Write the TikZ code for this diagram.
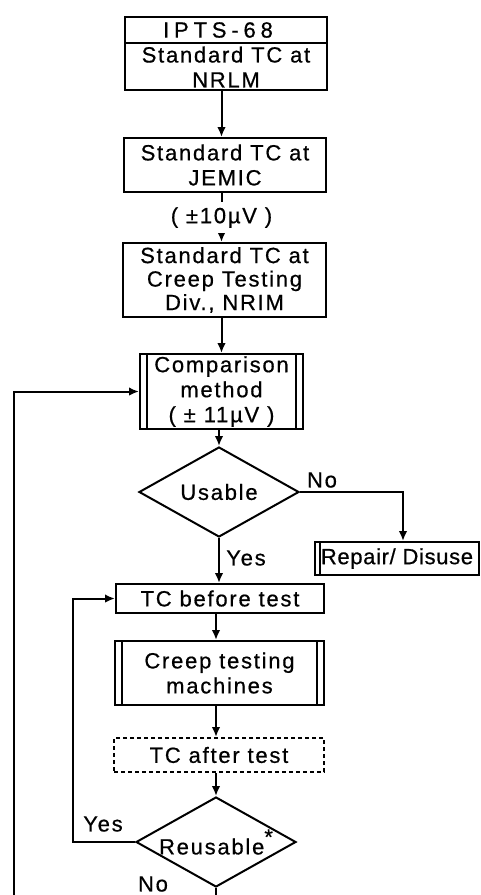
\documentclass[tikz,border=0pt]{standalone}
\usepackage{fontspec}
\setmainfont[LetterSpace=8,FakeBold=0.6]{Liberation Sans}
\usetikzlibrary{shapes.geometric,arrows.meta}

\begin{document}
\begin{tikzpicture}[x=1pt,y=-1pt,line width=2pt,
  every node/.style={font=\fontsize{22}{25}\selectfont,align=center,inner sep=0pt},
  box/.style={draw,rectangle},
  proc/.style={box,path picture={
      \draw[line width=1.6pt] ([xshift=7pt]path picture bounding box.north west) -- ([xshift=7pt]path picture bounding box.south west);
      \draw[line width=1.6pt] ([xshift=-7pt]path picture bounding box.north east) -- ([xshift=-7pt]path picture bounding box.south east);}},
  procleft/.style={box,path picture={
      \draw[line width=1.6pt] ([xshift=5pt]path picture bounding box.north west) -- ([xshift=5pt]path picture bounding box.south west);}},
  dia/.style={draw,diamond,aspect=1.78,minimum width=160pt,minimum height=90pt},
  dashbox/.style={box,dash pattern=on 4pt off 3pt},
  arr/.style={-{Latex[length=10pt,width=8.5pt]}}]

\clip (0,0) rectangle (480,895);

% reference standard at NRLM
\node[box,minimum width=202pt,minimum height=73pt] (nrlm) at (226,53.5) {};
\coordinate (divider) at (0,43);
\draw (nrlm.west |- divider) -- (nrlm.east |- divider);
\node[font=\fontsize{22}{25}\selectfont\addfontfeature{LetterSpace=22}] (nrlmhead) at (218,30) {IPTS-68};
\node (nrlmtext) at (226,67) {Standard TC at\\NRLM};

\node[box,minimum width=202pt,minimum height=54pt] (jemic) at (225,165) {Standard TC at\\JEMIC};
\node[box,minimum width=203pt,minimum height=74pt,font=\fontsize{22}{23.5}\selectfont] (nrim) at (224.5,280)
  {Standard TC at\\Creep Testing\\Div., NRIM};
\node[proc,minimum width=163pt,minimum height=75pt] (comp) at (221.5,391.5)
  {Comparison\\method\\( ± 11µV )};
\node[dia] (usable) at (219,492) {Usable};
\node[procleft,minimum width=164pt,minimum height=33pt,
      font=\fontsize{22}{25}\selectfont\addfontfeature{LetterSpace=3}] (repair) at (397,558.5) {Repair/ Disuse};
\node[box,minimum width=208pt,minimum height=29pt] (tcb) at (220,598.5) {TC before test};
\node[proc,minimum width=209pt,minimum height=64pt] (ctm) at (219.5,673) {Creep testing\\machines};
\node[dashbox,minimum width=210pt,minimum height=34pt] (tca) at (219,755) {TC after test};
\node[dia] (reuse) at (216,842) {Reusable\raisebox{0.45em}{*}};

% branch labels
\node (nolabel1) at (322,480) {No};
\node (yeslabel1) at (246,558) {Yes};
\node (yeslabel2) at (103,824) {Yes};
\node (nolabel2) at (153,884) {No};

% main flow
\draw[arr] (nrlm.south -| comp.north) -- (jemic.north -| comp.north);
\draw[arr] (jemic.south -| comp.north) -- node[fill=white,inner ysep=5pt] (tol) {( ±10µV )} (nrim.north -| comp.north);
\draw[arr] (nrim.south -| comp.north) -- (comp.north);
\draw[arr] (comp.south -| usable.north) -- (usable.north);
\draw[arr] (usable.east) -| ([xshift=6pt]repair.north);
\draw[arr] (usable.south) -- (usable.south |- tcb.north);
\draw[arr] (tcb.south -| reuse.north) -- (ctm.north -| reuse.north);
\draw[arr] (ctm.south -| reuse.north) -- (tca.north -| reuse.north);
\draw[arr] (tca.south -| reuse.north) -- (reuse.north);

% loops back
\draw[arr] (reuse.west) -- ++(-62,0) |- (tcb.west);
\coordinate (loopbottom) at (14,920);
\draw[arr] (reuse.south) |- (loopbottom) |- (comp.west);
\end{tikzpicture}
\end{document}
